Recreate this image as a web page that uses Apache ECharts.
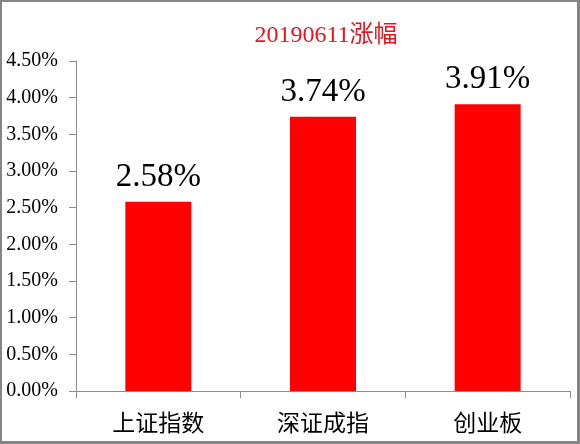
<!DOCTYPE html>
<html>
<head>
<meta charset="utf-8">
<script src="https://cdn.jsdelivr.net/npm/echarts@6/dist/echarts.min.js"></script>
<style>
  html, body { margin: 0; padding: 0; background: #fff; }
  #frame {
    width: 580px; height: 444px; box-sizing: border-box;
    border-style: solid; border-color: #858585;
    border-width: 2px 3px 3px 2px;
  }
  #app { width: 575px; height: 439px; }
</style>
</head>
<body>
<div id="frame"><div id="app"></div></div>
<script>
const title = '20190611涨幅'
const categories = ['上证指数', '深证成指', '创业板']
const values = [2.58, 3.74, 3.91]

const serif = '"Liberation Serif", "Times New Roman", "Noto Sans CJK SC", serif'
const echart = echarts.init(document.getElementById('app'))

echart.setOption({
  animation: false,
  title: {
    text: title,
    left: 319,
    top: 17,
    textAlign: 'center',
    textStyle: {
      color: '#e8141c',
      fontFamily: serif,
      fontSize: 24,
      fontWeight: 'normal'
    }
  },
  grid: {
    left: 74,
    right: 7,
    top: 59,
    bottom: 50,
    containLabel: false
  },
  xAxis: {
    type: 'category',
    data: categories,
    axisLine: { lineStyle: { color: '#8c8c8c', width: 1 } },
    axisTick: { show: true, length: 7, alignWithLabel: false, lineStyle: { color: '#8c8c8c' } },
    axisLabel: {
      color: '#000',
      fontSize: 23,
      fontFamily: '"Noto Sans CJK SC", sans-serif',
      margin: 20
    }
  },
  yAxis: {
    type: 'value',
    min: 0,
    max: 4.5,
    interval: 0.5,
    splitLine: { show: false },
    axisLine: { show: true, lineStyle: { color: '#8c8c8c', width: 1 } },
    axisTick: { show: true, length: 7, lineStyle: { color: '#8c8c8c' } },
    axisLabel: {
      color: '#000',
      fontSize: 20,
      fontFamily: serif,
      margin: 18,
      formatter: v => v.toFixed(2) + '%'
    }
  },
  series: [
    {
      type: 'bar',
      data: values,
      barWidth: 66,
      itemStyle: { color: '#ff0000' },
      label: {
        show: true,
        position: 'top',
        distance: 8,
        color: '#000',
        fontSize: 33,
        fontFamily: serif,
        formatter: p => p.value.toFixed(2) + '%'
      }
    }
  ]
})
</script>
</body>
</html>
